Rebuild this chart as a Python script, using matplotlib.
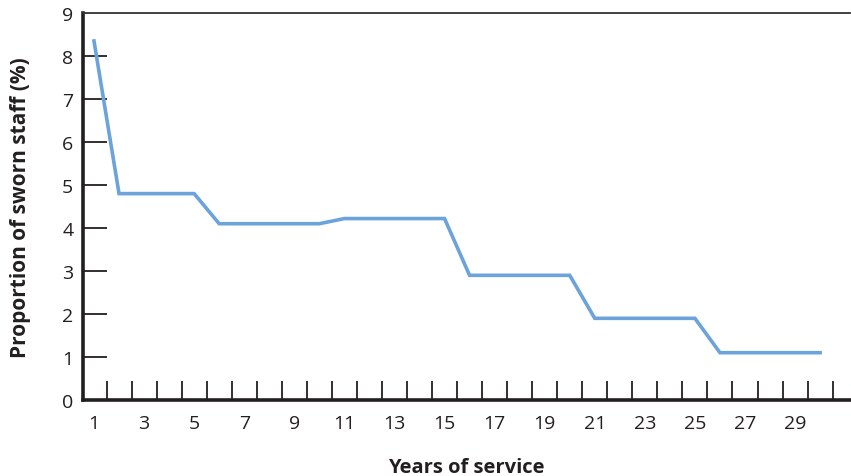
import matplotlib.pyplot as plt
from matplotlib.ticker import FixedLocator

plt.rcParams['font.family'] = ['Open Sans', 'DejaVu Sans']

# Years of service 1..30 and the share of sworn staff at each
years = list(range(1, 31))
proportion = [8.35, 4.8, 4.8, 4.8, 4.8, 4.1, 4.1, 4.1, 4.1, 4.1,
              4.22, 4.22, 4.22, 4.22, 4.22, 2.9, 2.9, 2.9, 2.9, 2.9,
              1.9, 1.9, 1.9, 1.9, 1.9, 1.1, 1.1, 1.1, 1.1, 1.1]
x_labels = [str(y) for y in range(1, 30, 2)]
y_ticks = list(range(0, 10))

fig = plt.figure(figsize=(8.51, 4.77), dpi=100)
ax = fig.add_axes([0.0975, 0.1593, 0.9015, 0.8113])

ax.plot(years, proportion, color='#6CA3DB', linewidth=2.6, solid_joinstyle='miter')

ax.set_xlim(0.56, 31.2)
ax.set_ylim(0, 9)

# labels at category centres, marks at category boundaries
ax.set_xticks(range(1, 30, 2))
ax.set_xticklabels(x_labels)
ax.xaxis.set_minor_locator(FixedLocator([y + 0.5 for y in years]))
ax.tick_params(axis='x', which='major', length=0, pad=10, labelsize=14, colors='#231f20')
ax.tick_params(axis='x', which='minor', direction='in', length=14, width=1.3, color='#231f20')

ax.set_yticks(y_ticks)
ax.tick_params(axis='y', which='major', direction='in', length=17, width=1.3,
               pad=7, labelsize=14, colors='#231f20')
ax.get_yticklines()[0].set_visible(False)
ax.get_yticklines()[-2].set_visible(False)

for side in ['left', 'bottom']:
    ax.spines[side].set_linewidth(2.6)
    ax.spines[side].set_color('#231f20')
ax.spines['top'].set_linewidth(1.3)
ax.spines['top'].set_color('#333333')
ax.spines['right'].set_visible(False)

ax.set_xlabel('Years of service', fontsize=14.5, fontweight='bold', labelpad=18, color='#231f20')
ax.set_ylabel('Proportion of sworn staff (%)', fontsize=15, fontweight='bold', labelpad=22, color='#231f20')

fig.savefig('out.png', dpi=100)
